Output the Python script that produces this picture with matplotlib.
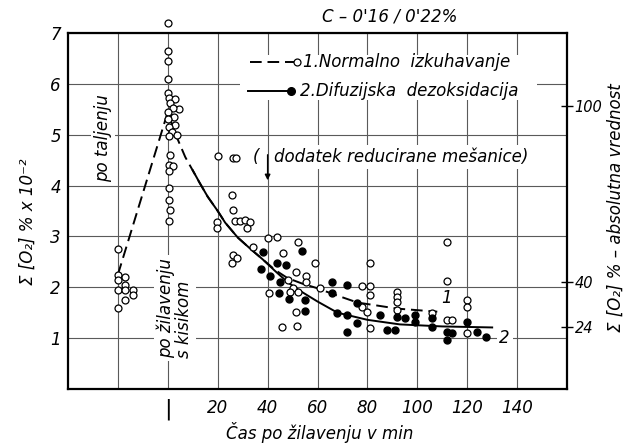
import matplotlib.pyplot as plt
from matplotlib.patches import Rectangle

# open circles: 1. normalno izkuhavanje
open_x = [-20, -20, -20, -20, -20, -17, -17, -17, -17, -14, -14,
          0, 0, 0, 0, 0, 0.5, 3, 1, 4.5, 2, 0, 2.5, 0, 3, 0.5, 1.5, 3.5, 0.5,
          1, 0.5, 2, 0.5, 0.5, 0.5, 1, 0.5,
          20, 26, 27.5, 25.6, 26, 19.6, 19.6, 27, 29, 31, 33, 31.6,
          40, 43.7, 52, 34, 46, 26, 27.6, 25.6, 59, 51.3, 55.3, 48, 55.3,
          50, 61, 40.5, 52, 49, 51.3, 45.7, 51.7,
          112, 81, 112, 78, 81, 81, 92, 92, 92, 78, 80, 92, 106, 112, 114,
          81, 120, 120, 120]
open_y = [2.75, 2.25, 2.15, 1.95, 1.6, 2.2, 2.05, 1.95, 1.75, 1.95, 1.85,
          7.2, 6.65, 6.45, 6.1, 5.82, 5.72, 5.7, 5.62, 5.5, 5.52, 5.45, 5.35, 5.3,
          5.2, 5.15, 5.05, 5.0, 4.97,
          4.6, 4.4, 4.38, 4.28, 3.95, 3.72, 3.52, 3.3,
          4.58, 4.55, 4.55, 3.81, 3.52, 3.28, 3.17, 3.3, 3.3, 3.32, 3.28, 3.17,
          2.97, 2.99, 2.89, 2.79, 2.67, 2.63, 2.58, 2.48, 2.48, 2.3, 2.22, 2.14, 2.1,
          1.99, 1.99, 1.89, 1.91, 1.9, 1.51, 1.22, 1.24,
          2.89, 2.48, 2.12, 2.03, 2.03, 1.85, 1.91, 1.81, 1.71, 1.61, 1.51, 1.55,
          1.49, 1.36, 1.36, 1.2, 1.75, 1.61, 1.1]

# filled dots: 2. difuzijska dezoksidacija
filled_x = [53.7, 38, 43.7, 47.3, 37.3, 41, 45, 66, 44.5, 48.5, 55, 66, 55,
            72, 76, 68, 72, 85, 92, 95, 99, 99, 106, 120, 76, 72, 88, 91,
            106, 112, 114, 112, 124, 127.5]
filled_y = [2.71, 2.7, 2.48, 2.44, 2.36, 2.22, 2.1, 2.1, 1.89, 1.77, 1.75, 1.89, 1.53,
            2.04, 1.69, 1.49, 1.46, 1.46, 1.42, 1.4, 1.46, 1.32, 1.4, 1.32, 1.3, 1.12,
            1.16, 1.16, 1.22, 1.12, 1.1, 0.96, 1.12, 1.02]

# mean curves
curve1_x = [-20, 0, 3, 7, 12.8, 16, 20, 23, 28, 33, 38, 43, 48, 54, 60, 66, 76, 92, 108]
curve1_y = [2.25, 5.45, 5.02, 4.56, 4.05, 3.78, 3.5, 3.27, 2.98, 2.76, 2.55, 2.34,
            2.18, 2.07, 1.98, 1.87, 1.7, 1.58, 1.52]
curve2_x = [10, 12.8, 16, 20, 23, 28, 33, 38, 43, 48, 53, 60, 68, 80, 93, 110, 130]
curve2_y = [4.3, 4.05, 3.78, 3.5, 3.27, 2.98, 2.76, 2.55, 2.32, 2.1, 1.93, 1.72,
            1.5, 1.36, 1.27, 1.23, 1.21]

x_ticks = [-20, 0, 20, 40, 60, 80, 100, 120, 140]
x_labels = ['', '|', '20', '40', '60', '80', '100', '120', '140']
y_ticks = [1, 2, 3, 4, 5, 6, 7]
abs_ticks = [5.57, 2.11, 1.22]
abs_labels = ['100', '40', '24']

plt.rcParams['font.family'] = 'DejaVu Sans'
plt.rcParams['font.style'] = 'italic'

fig = plt.figure(figsize=(6.32, 4.44), dpi=100)
ax = fig.add_axes([0.1076, 0.1239, 0.7896, 0.8018])
ax.set_xlim(-40, 160)
ax.set_ylim(0, 7)

ax.set_xticks(x_ticks)
ax.set_xticklabels(x_labels)
ax.set_yticks(y_ticks)
ax.set_yticklabels([str(v) for v in y_ticks])
ax.tick_params(axis='x', length=0, pad=7, labelsize=12)
ax.tick_params(axis='y', length=0, pad=5, labelsize=12)
ax.get_xticklabels()[1].set_fontsize(16)
ax.get_xticklabels()[1].set_fontstyle('normal')
ax.grid(True, color='#5a5a5a', lw=0.8)
ax.set_axisbelow(True)
for sp in ax.spines.values():
    sp.set_linewidth(1.6)

# white area behind the key
ax.add_patch(Rectangle((29, 5.68), 119, 0.88, facecolor='white',
                       edgecolor='none', zorder=1))

ax.plot(curve1_x, curve1_y, color='black', lw=1.4, ls=(0, (6, 3)), zorder=2)
ax.plot(curve2_x, curve2_y, color='black', lw=1.4, zorder=2.2)
ax.plot(open_x, open_y, ls='none', marker='o', ms=5, mfc='white',
        mec='black', mew=0.9, zorder=4, clip_on=False)
ax.plot(filled_x, filled_y, ls='none', marker='o', ms=5, mfc='black',
        mec='black', zorder=4)

# key
ax.plot([33, 50.5], [6.43, 6.43], color='black', lw=1.4, ls=(0, (6, 3)), zorder=3)
ax.plot([51.7], [6.43], marker='o', ms=5, mfc='white', mec='black', mew=0.9, zorder=4)
ax.plot([32, 49.5], [5.86, 5.86], color='black', lw=1.4, zorder=3)
ax.plot([49.5], [5.86], marker='o', ms=5.5, mfc='black', mec='black', zorder=4)
ax.text(54, 6.43, '1.Normalno  izkuhavanje', fontsize=12, va='center', zorder=3)
ax.text(53, 5.86, '2.Difuzijska  dezoksidacija', fontsize=12, va='center', zorder=3)

box = dict(facecolor='white', edgecolor='none', pad=2)
ax.text(-26, 4.93, 'po taljenju', rotation=90, fontsize=12, ha='center',
        va='center', bbox=box, zorder=3)
ax.text(2.8, 1.59, 'po žilavenju\ns kisikom', rotation=90, fontsize=12,
        ha='center', va='center', multialignment='left', linespacing=1.0,
        bbox=box, zorder=3)
ax.text(34, 4.56, '(', fontsize=12, va='center', zorder=3)
ax.text(42.5, 4.56, 'dodatek reducirane mešanice)', fontsize=12, va='center',
        bbox=box, zorder=3)
ax.annotate('', xy=(40, 4.05), xytext=(40, 4.66),
            arrowprops=dict(arrowstyle='-|>', color='black', lw=1.0,
                            mutation_scale=8), zorder=3)
ax.text(111.8, 1.78, '1', fontsize=12, ha='center', va='center', zorder=3)
ax.text(135, 1.0, '2', fontsize=12, ha='center', va='center', bbox=box, zorder=3)

ax.text(89, 7.33, "C – 0'16 / 0'22%", fontsize=12, ha='center', va='center',
        clip_on=False)
ax.text(0.505, -0.121, 'Čas po žilavenju v min', transform=ax.transAxes,
        fontsize=12, ha='center', va='center')
ax.text(-0.08, 0.47, 'Σ [O₂] % x 10⁻²', transform=ax.transAxes, rotation=90,
        fontsize=12, ha='center', va='center')

# absolute oxygen scale on the right
ax2 = ax.twinx()
ax2.set_ylim(0, 7)
ax2.set_yticks(abs_ticks)
ax2.set_yticklabels(abs_labels)
ax2.tick_params(axis='y', direction='inout', length=9, width=1.0, pad=1,
                labelsize=10.5)
for sp in ax2.spines.values():
    sp.set_visible(False)
ax2.text(1.097, 0.51, 'Σ [O₂] % – absolutna vrednost', transform=ax.transAxes,
         rotation=90, fontsize=12, ha='center', va='center')

fig.savefig('out.png', dpi=100)
